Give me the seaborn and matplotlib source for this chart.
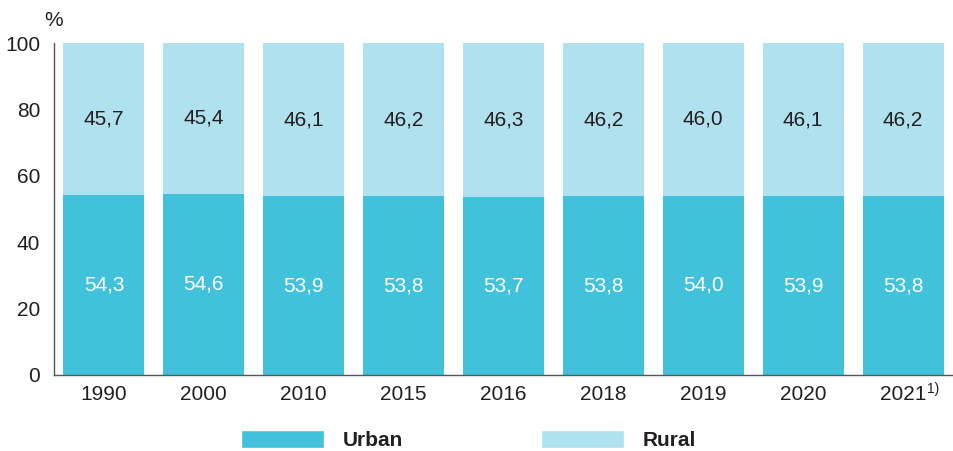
import pandas as pd
import matplotlib.pyplot as plt
import seaborn as sns
from matplotlib.patches import Patch
from matplotlib.ticker import FixedLocator

# data
years = ['1990', '2000', '2010', '2015', '2016', '2018', '2019', '2020', '2021']
urban = [54.3, 54.6, 53.9, 53.8, 53.7, 53.8, 54.0, 53.9, 53.8]
rural = [45.7, 45.4, 46.1, 46.2, 46.3, 46.2, 46.0, 46.1, 46.2]

urban_color = '#42C1DB'
rural_color = '#B0E1EF'
text_color = '#231F20'
fs = 15

df = pd.DataFrame({'Year': years, 'Urban': urban, 'Rural': rural})
df['Total'] = df['Urban'] + df['Rural']

sns.set_style('white')
plt.rcParams['font.family'] = ['Liberation Sans', 'DejaVu Sans']

fig = plt.figure(figsize=(9.54, 4.51), dpi=100)
ax = fig.add_axes([54 / 954, 76 / 451, 899 / 954, 332 / 451])

# stacked bars: total in rural colour, urban drawn over it
sns.barplot(data=df, x='Year', y='Total', color=rural_color, width=0.81,
            saturation=1, linewidth=0, ax=ax)
sns.barplot(data=df, x='Year', y='Urban', color=urban_color, width=0.81,
            saturation=1, linewidth=0, ax=ax)

for i, (u, r) in enumerate(zip(urban, rural)):
    ax.text(i, u / 2, f'{u:.1f}'.replace('.', ','), ha='center', va='center',
            fontsize=fs, color='white')
    ax.text(i, u + r / 2, f'{r:.1f}'.replace('.', ','), ha='center', va='center',
            fontsize=fs, color=text_color)

ax.set_xlim(-0.5, len(years) - 0.5)
ax.set_ylim(0, 100)
ax.set_yticks(range(0, 101, 20))
ax.set_xlabel('')
ax.set_ylabel('')

ax.set_xticks(range(len(years)))
ax.set_xticklabels(years)
ax.xaxis.set_minor_locator(FixedLocator([i + 0.5 for i in range(len(years))]))
ax.tick_params(axis='x', which='major', length=0, pad=7, labelsize=fs,
               labelcolor=text_color)
ax.tick_params(axis='x', which='minor', length=8, width=1, direction='inout',
               color='#555555')
ax.tick_params(axis='y', length=8, width=1, direction='inout', color='#555555',
               pad=6, labelsize=fs, labelcolor=text_color)

# footnote marker on the last year
ax.annotate('1)', xy=(len(years) - 1, 0), xycoords=('data', 'axes fraction'),
            xytext=(17.5, -5), textcoords='offset points', ha='left', va='top',
            fontsize=10, color=text_color)

sns.despine(ax=ax, top=True, right=True)
for side in ['left', 'bottom']:
    ax.spines[side].set_color('#555555')
    ax.spines[side].set_linewidth(1)

fig.text(54 / 954, 1 - 21 / 451, '%', ha='center', va='center', fontsize=fs,
         color=text_color)

handles = [Patch(facecolor=urban_color, label='Urban'),
           Patch(facecolor=rural_color, label='Rural')]
leg = fig.legend(handles=handles, loc='lower left', bbox_to_anchor=(241 / 954, 0.002),
                 ncol=2, frameon=False, handlelength=4.0, handleheight=0.9,
                 handletextpad=0.9, columnspacing=6.6, borderpad=0, borderaxespad=0,
                 prop={'weight': 'bold', 'size': fs})
for t in leg.get_texts():
    t.set_color(text_color)

fig.savefig('out.png', dpi=100)
